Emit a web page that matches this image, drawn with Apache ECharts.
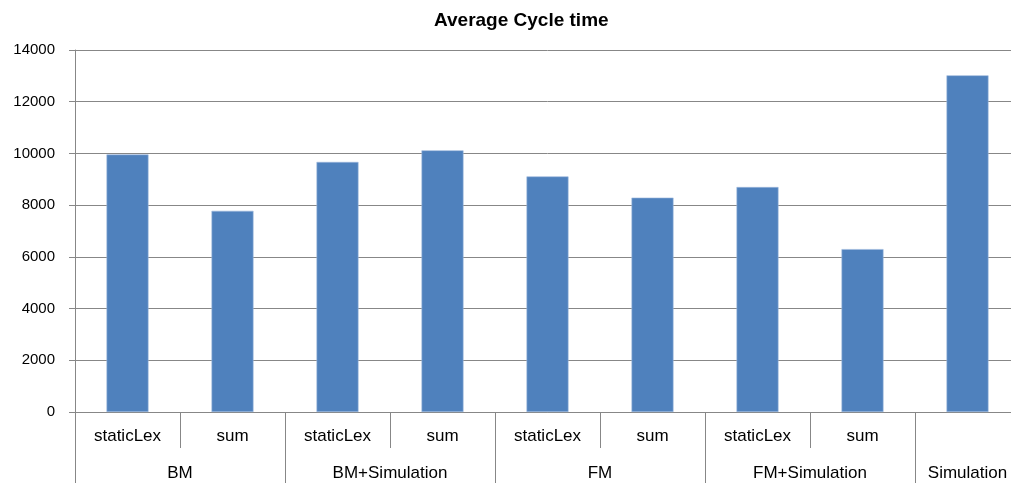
<!DOCTYPE html>
<html>
<head>
<meta charset="utf-8">
<script src="https://cdn.jsdelivr.net/npm/echarts@6/dist/echarts.min.js"></script>
<style>
html,body{margin:0;padding:0;background:#fff;overflow:hidden;width:1011px;height:483px;}
#chart{width:1021px;height:483px;}
</style>
</head>
<body>
<div id="chart"></div>
<script>
const title = 'Average Cycle time';
const subCategories = ['staticLex', 'sum', 'staticLex', 'sum', 'staticLex', 'sum', 'staticLex', 'sum', ''];
const groups = ['BM', 'BM+Simulation', 'FM', 'FM+Simulation', 'Simulation'];
const groupSizes = [2, 2, 2, 2, 1];
const values = [9960, 7780, 9670, 10120, 9110, 8290, 8700, 6300, 13020];
const yTicks = [0, 2000, 4000, 6000, 8000, 10000, 12000, 14000];

// group boundaries and centers in category units
const boundaries = [0];
const centers = [];
groupSizes.forEach((s) => {
  const start = boundaries[boundaries.length - 1];
  centers.push(start + s / 2);
  boundaries.push(start + s);
});

const gray = '#878787';
const font = '"Liberation Sans", Arial, sans-serif';

const chart = echarts.init(document.getElementById('chart'), null, {renderer: 'canvas'});
chart.setOption({
  animation: false,
  backgroundColor: '#fff',
  title: {
    text: title,
    left: 429,
    top: 6,
    textStyle: {fontFamily: font, fontWeight: 'bold', fontSize: 19, color: '#000'}
  },
  grid: {left: 75, right: 1, top: 50, bottom: 71, containLabel: false},
  xAxis: [
    {
      type: 'category',
      data: subCategories,
      boundaryGap: true,
      axisLine: {show: true, lineStyle: {color: gray, width: 1}},
      axisTick: {show: true, length: 36, lineStyle: {color: gray, width: 1}},
      axisLabel: {interval: 0, margin: 16, fontFamily: font, fontSize: 17, color: '#000'},
      splitLine: {show: false}
    },
    {
      type: 'value',
      min: 0,
      max: subCategories.length,
      position: 'bottom',
      axisLine: {show: false},
      axisTick: {show: true, length: 71, customValues: boundaries, lineStyle: {color: gray, width: 1}},
      axisLabel: {
        show: true,
        margin: 53,
        customValues: centers,
        formatter: (v) => {
          const i = centers.indexOf(v);
          return i >= 0 ? groups[i] : '';
        },
        fontFamily: font, fontSize: 17, color: '#000'
      },
      splitLine: {show: false}
    }
  ],
  yAxis: {
    type: 'value',
    min: yTicks[0],
    max: yTicks[yTicks.length - 1],
    interval: 2000,
    axisLine: {show: true, lineStyle: {color: gray, width: 1}},
    axisTick: {show: true, length: 6, lineStyle: {color: gray}},
    axisLabel: {margin: 20, fontFamily: font, fontSize: 15, color: '#000', formatter: (v) => String(v)},
    splitLine: {show: true, lineStyle: {color: gray, width: 1}}
  },
  series: [{
    type: 'bar',
    data: values,
    xAxisIndex: 0,
    barCategoryGap: '60%',
    itemStyle: {color: '#4F81BD', borderColor: '#9DB9DE', borderWidth: 0.6}
  }]
});
</script>
</body>
</html>
